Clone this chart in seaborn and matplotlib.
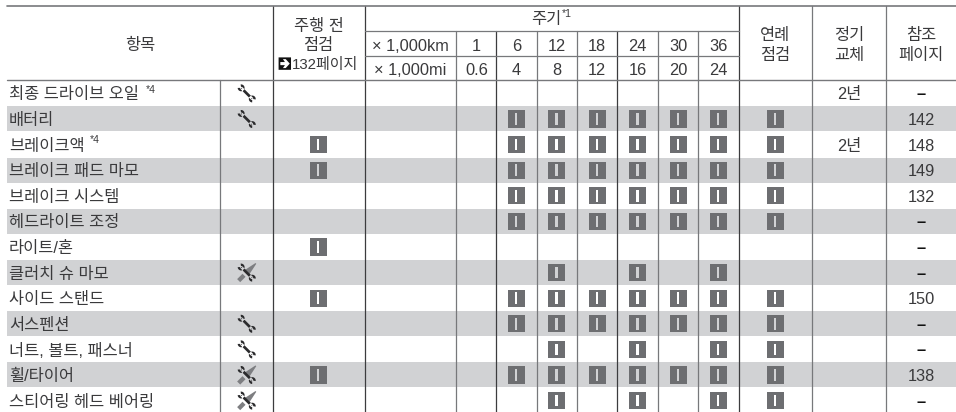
import numpy as np
import pandas as pd
import matplotlib as mpl
import matplotlib.pyplot as plt
import seaborn as sns
from matplotlib.path import Path

items = [
    "최종 드라이브 오일", "배터리", "브레이크액", "브레이크 패드 마모", "브레이크 시스템",
    "헤드라이트 조정", "라이트/혼", "클러치 슈 마모", "사이드 스탠드", "서스펜션",
    "너트, 볼트, 패스너", "휠/타이어", "스티어링 헤드 베어링",
]
tools = ["w", "w", "", "", "", "", "", "b", "", "w", "w", "b", "b"]
pre_ride = [0, 0, 1, 1, 0, 0, 1, 0, 1, 0, 0, 1, 0]
annual = [0, 1, 1, 1, 1, 1, 0, 0, 1, 1, 1, 1, 1]
km_labels = ["1", "6", "12", "18", "24", "30", "36"]
mi_labels = ["0.6", "4", "8", "12", "16", "20", "24"]
every = ["6", "12", "18", "24", "30", "36"]
even = ["12", "24", "36"]
schedule = [[], every, every, every, every, every, [], even, every, every, even, every, even]
replace = ["2년", "", "2년", "", "", "", "", "", "", "", "", "", ""]
pages = ["–", "142", "148", "149", "132", "–", "–", "–", "150", "–", "–", "138", "–"]

# layout in pixels of the 956x412 picture
ROW_0 = 93.4
ROW_H = 25.6
KM_X = [476.5, 516.3, 556.6, 597.2, 637.5, 678.2, 718.2]
PRE_X = 318.3
ANNUAL_X = 775.3
REPLACE_X = 849
PAGE_X = 921
TOOL_X = 246.7
INK = "#3a3a3c"
GRID_DARK = "#3c3c3e"
GRID_GRAY = "#77787b"


def inspect_marker():
    outer = [(-1, -1), (-1, 1), (1, 1), (1, -1), (-1, -1)]
    hole = [(-0.13, -0.68), (0.13, -0.68), (0.13, 0.68), (-0.13, 0.68), (-0.13, -0.68)]
    return Path(outer + hole, [1, 2, 2, 2, 79] * 2)


def arrow_marker():
    outer = [(-1, -1), (-1, 1), (1, 1), (1, -1), (-1, -1)]
    hole = [(-0.72, -0.25), (0.02, -0.25), (-0.3, -0.72), (0.15, -0.72), (0.8, 0),
            (0.15, 0.72), (-0.3, 0.72), (0.02, 0.25), (-0.72, 0.25), (-0.72, -0.25)]
    return Path(outer + hole, [1, 2, 2, 2, 79] + [1] + [2] * 8 + [79])


def jaw(cx, cy, facing):
    t = np.radians(np.linspace(facing + 42, facing + 318, 14))
    xs = np.r_[cx + 0.4 * np.cos(t), cx + 0.12 * np.cos(t[::-1])]
    ys = np.r_[cy + 0.4 * np.sin(t), cy + 0.12 * np.sin(t[::-1])]
    return Path(np.c_[xs, ys], closed=False)


def wrench_marker():
    shaft = Path([(-0.72, 0.5), (-0.5, 0.72), (0.72, -0.5), (0.5, -0.72)])
    return Path.make_compound_path(jaw(-0.64, 0.64, 140), jaw(0.64, -0.64, -50), shaft)


def driver_marker():
    handle = Path([(-1, -0.68), (-0.68, -1), (-0.12, -0.44), (-0.44, -0.12)])
    blade = Path([(-0.3, 0.2), (0.92, 1), (1, 0.92), (0.2, -0.3)])
    return Path.make_compound_path(handle, blade)


def rows_y(idx):
    return [ROW_0 + ROW_H * i for i in idx]


mpl.rcParams["path.simplify"] = False
sns.set_theme(style="white")
plt.rcParams["font.family"] = ["Liberation Sans", "Noto Sans CJK KR"]

fig = plt.figure(figsize=(9.56, 4.12), dpi=100)
ax = fig.add_axes([0, 0, 1, 1])
ax.set_xlim(0, 956)
ax.set_ylim(412, 0)
ax.axis("off")

# shaded rows
for i in range(1, len(items), 2):
    ax.fill_between([7, 956], ROW_0 + ROW_H * i - 12.6, ROW_0 + ROW_H * i + 12.4,
                    color="#d1d2d4", lw=0, zorder=0)

# table rules
for x, top, col in [
    (220, 80, GRID_GRAY), (273.3, 6, GRID_DARK), (364.8, 6, GRID_DARK), (455.8, 31, GRID_GRAY),
    (496.3, 31, GRID_DARK), (537, 31, GRID_GRAY), (577, 31, GRID_GRAY), (617.5, 31, GRID_DARK),
    (658, 31, GRID_GRAY), (698.2, 31, GRID_GRAY), (738.6, 6, GRID_DARK), (812.2, 6, GRID_GRAY),
    (885.8, 6, GRID_GRAY),
]:
    ax.plot([x, x], [top, 412], color=col, lw=0.9, zorder=1)
ax.plot([7, 956], [6, 6], color=GRID_GRAY, lw=1.2, zorder=1)
ax.plot([7, 956], [80, 80], color=GRID_GRAY, lw=1.0, zorder=1)
ax.plot([364.8, 738.6], [31.3, 31.3], color=GRID_GRAY, lw=0.9, zorder=1)
ax.plot([364.8, 738.6], [56, 56], color=GRID_GRAY, lw=0.9, zorder=1)

# inspection marks
marks = []
for i, flag in enumerate(pre_ride):
    if flag:
        marks.append((PRE_X, ROW_0 + ROW_H * i))
for i, flag in enumerate(annual):
    if flag:
        marks.append((ANNUAL_X, ROW_0 + ROW_H * i))
for i, due in enumerate(schedule):
    for km in due:
        marks.append((KM_X[km_labels.index(km)], ROW_0 + ROW_H * i))
marks = pd.DataFrame(marks, columns=["x", "y"])
sns.scatterplot(data=marks, x="x", y="y", ax=ax, marker=inspect_marker(), s=150,
                color="#6d6e71", linewidth=0, edgecolor="none", legend=False, zorder=3)

# tool icons
wrench_rows = [i for i, t in enumerate(tools) if t]
driver_rows = [i for i, t in enumerate(tools) if t == "b"]
sns.scatterplot(x=[TOOL_X] * len(driver_rows), y=rows_y(driver_rows), ax=ax, marker=driver_marker(),
                s=190, color="#7d7e81", linewidth=0, edgecolor="none", legend=False, zorder=3)
sns.scatterplot(x=[TOOL_X] * len(wrench_rows), y=rows_y(wrench_rows), ax=ax, marker=wrench_marker(),
                s=170, color="#2b2b2d", linewidth=0, edgecolor="none", legend=False, zorder=4)

# arrow box in the header
sns.scatterplot(x=[284.8], y=[63.6], ax=ax, marker=arrow_marker(), s=80, color="#111111",
                linewidth=0, edgecolor="none", legend=False, zorder=3)


def label(x, y, s, size=11.8, ha="center", **kw):
    kw.setdefault("color", INK)
    ax.text(x, y, s, fontsize=size, ha=ha, va="center_baseline", zorder=5, **kw)


# row text
for i, name in enumerate(items):
    y = ROW_0 + ROW_H * i
    label(9, y, name, ha="left")
    label(REPLACE_X, y, replace[i])
    if pages[i] == "–":
        label(PAGE_X, y, pages[i], weight="bold", color="#111111")
    else:
        label(PAGE_X, y, pages[i])
label(146, 89, "*4", size=7.5, ha="left")
label(90, 139, "*4", size=7.5, ha="left")

# header text
label(140, 44, "항목")
label(318.5, 25, "주행 전")
label(318.5, 44, "점검")
label(292, 63.5, "132페이지", size=10.8, ha="left")
label(546, 18, "주기")
label(562, 13, "*1", size=7.5, ha="left")
label(410.5, 44.5, "× 1,000km")
label(410.5, 68.5, "× 1,000mi")
for x, km, mi in zip(KM_X, km_labels, mi_labels):
    label(x, 44.5, km)
    label(x, 68.5, mi)
label(775.3, 33.5, "연례")
label(775.3, 53.5, "점검")
label(849, 33.5, "정기")
label(849, 53.5, "교체")
label(921, 33.5, "참조")
label(921, 53.5, "페이지")

fig.savefig("out.png", dpi=100)
